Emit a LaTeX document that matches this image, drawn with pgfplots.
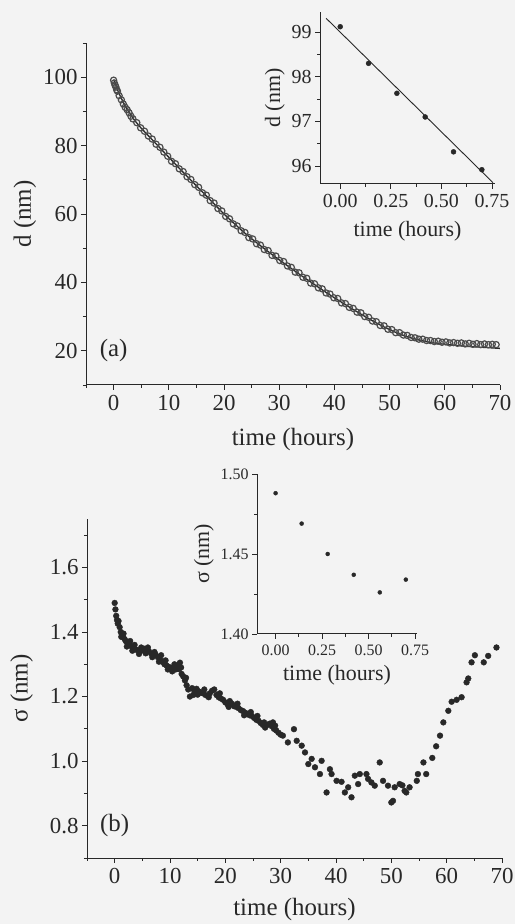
\documentclass[border=0pt]{standalone}
\usepackage{fontspec}
\setmainfont{Liberation Serif}
\usepackage{pgfplots}
\pgfplotsset{compat=1.18}
\definecolor{paper}{RGB}{243,243,243}
\definecolor{ink}{RGB}{40,40,40}

\pgfplotsset{
  panel/.style={
    scale only axis, anchor=south west,
    axis lines=left, axis line style={-, line width=1bp, ink},
    tick align=outside, major tick length=5bp, minor tick length=3bp,
    every tick/.style={ink, line width=0.9bp},
    /pgf/number format/assume math mode=true,
    tick label style={ink, font=\fontsize{23}{25}\selectfont},
    xticklabel style={yshift=-2bp},
    label style={ink, font=\fontsize{25}{27}\selectfont},
  },
  inset/.style={
    panel,
    tick label style={ink, font=\fontsize{20}{22}\selectfont},
    label style={ink, font=\fontsize{22}{24}\selectfont},
    xtick={0,0.25,0.5,0.75},
    minor xtick={0.125,0.375,0.625},
    xticklabel style={/pgf/number format/.cd, fixed, fixed zerofill, precision=2},
    xlabel={time (hours)},
    xmin=-0.1, xmax=0.765,
  },
}

\begin{document}
\begin{tikzpicture}
\useasboundingbox (0bp,0bp) rectangle (515bp,924bp);
\fill[paper] (0bp,0bp) rectangle (515bp,924bp);

% (a) diameter
\begin{axis}[panel, at={(86bp,539bp)}, width=414bp, height=342bp,
  xmin=-5, xmax=70, ymin=10, ymax=110,
  xtick={0,10,...,70}, minor xtick={-5,5,...,65},
  ytick={20,40,...,100}, minor ytick={10,30,...,110},
  xlabel={time (hours)}, ylabel={d (nm)},
  xlabel style={yshift=-10bp}]
\addplot[only marks, mark=o, mark size=3.1bp, mark options={draw=black!70, line width=1.2bp}] coordinates {
(0,99.12)(0.14,98.30)(0.28,97.63)(0.42,97.10)(0.56,96.32)(0.70,95.92)
(1.0,94.6)(1.4,93.4)(1.75,92.2)(2.1,91.2)(2.45,90.5)(2.8,89.6)(3.15,88.6)
(3.5,87.8)(4.2,86.7)(4.9,85.2)(5.6,84.2)
(6.3,82.8)(7.0,81.9)(7.7,80.4)(8.4,79.5)(9.1,78.1)(9.8,76.9)(10.5,75.4)
(11.2,74.7)(11.9,73.2)(12.6,72.4)(13.3,70.9)(14.0,70.1)(14.7,68.6)
(15.4,67.8)(16.1,66.2)(16.8,65.5)(17.5,63.9)(18.2,63.2)(18.9,61.6)
(19.6,60.9)(20.3,59.3)(21.0,58.6)(21.7,57.1)(22.4,56.5)(23.1,55.1)
(23.8,54.6)(24.5,53.1)(25.2,52.7)(25.9,51.3)(26.6,50.9)(27.3,49.6)
(28.0,49.3)(28.7,47.9)(29.4,47.7)(30.1,46.4)(30.8,46.1)(31.5,44.8)
(32.2,44.4)(32.9,43.0)(33.6,42.8)(34.3,41.5)(35.0,41.2)(35.7,39.8)
(36.4,39.6)(37.1,38.4)(37.8,38.1)(38.5,36.9)(39.2,36.6)(39.9,35.5)
(40.6,35.3)(41.3,34.0)(42.0,33.8)(42.7,32.7)(43.4,32.4)(44.1,31.3)
(44.8,31.1)(45.5,30.0)(46.2,29.8)(46.9,28.7)(47.6,28.5)(48.3,27.4)
(49.0,27.3)(49.7,26.3)(50.4,26.2)(51.1,25.3)(51.8,25.3)(52.5,24.6)
(53.2,24.5)(53.9,23.9)(54.6,23.8)(55.3,23.4)(56.0,23.4)(56.7,23.0)
(57.4,23.0)(58.1,22.7)(58.8,22.8)(59.5,22.5)(60.2,22.6)(60.9,22.3)
(61.6,22.4)(62.3,22.2)(63.0,22.3)(63.7,22.0)(64.4,22.2)(65.1,21.9)
(65.8,22.1)(66.5,21.8)(67.2,22.0)(67.9,21.8)(68.6,21.9)(69.3,21.8)
};
\addplot[ink, line width=1.3bp, smooth] coordinates {
(0,99.3)(0.5,97.2)(1,95.2)(2,91.9)(3,89.2)(4,87.0)(5,85.1)(7,81.7)
(10,76.6)(12,73.2)(14,69.9)(16,66.6)(18,63.3)(20,60.0)(22,57.0)(24,54.1)
(26,51.5)(28,49.0)(30,46.6)(32,44.3)(34,42.0)(36,39.8)(38,37.6)(40,35.5)
(42,33.5)(44,31.5)(46,29.6)(48,27.8)(50,26.2)(52,24.8)(54,23.7)(56,22.9)
(58,22.3)(60,21.9)(62,21.6)(64,21.3)(66,21.1)(68,20.9)(70,20.7)
};
\node[ink, font=\fontsize{25}{27}\selectfont] at (axis cs:0,20) {(a)};
\end{axis}

% (a) inset
\begin{axis}[inset, at={(320bp,740bp)}, width=175bp, height=172bp,
  ymin=95.6, ymax=99.45,
  ytick={96,97,98,99}, minor ytick={96.5,97.5,98.5},
  ylabel={d (nm)}, xlabel style={yshift=-6bp}]
\addplot[only marks, mark=*, mark size=2.5bp, ink] coordinates {
(0,99.12)(0.14,98.30)(0.28,97.63)(0.42,97.10)(0.56,96.32)(0.70,95.92)
};
\addplot[ink, line width=0.9bp] coordinates {(-0.07,99.31)(0.755,95.63)};
\end{axis}

% (b) width
\begin{axis}[panel, at={(87bp,66bp)}, width=415bp, height=339bp,
  xmin=-5, xmax=70, ymin=0.7, ymax=1.75,
  xtick={0,10,...,70}, minor xtick={-5,5,...,65},
  ytick={0.8,1.0,...,1.6}, minor ytick={0.7,0.9,...,1.7},
  yticklabel style={/pgf/number format/.cd, fixed, fixed zerofill, precision=1},
  xlabel={time (hours)}, ylabel={σ (nm)},
  xlabel style={yshift=-7bp}, ylabel style={yshift=10bp}]
\addplot[only marks, mark=*, mark size=2.9bp, ink] coordinates {
(0,1.490)(0.14,1.470)(0.28,1.450)(0.42,1.437)(0.56,1.426)(0.70,1.434)
(0.9,1.415)(1.1,1.400)(1.3,1.392)(1.5,1.385)(1.8,1.378)(2.0,1.372)
(2.3,1.366)(2.6,1.360)(3.0,1.356)(3.4,1.350)(3.8,1.346)(4.2,1.343)
(4.6,1.340)(5.0,1.344)(5.4,1.348)(5.8,1.346)(6.2,1.340)(6.6,1.333)
(7.0,1.328)(7.4,1.330)(7.8,1.322)(8.2,1.315)(8.6,1.308)(9.0,1.300)
(9.4,1.296)(9.8,1.292)(10.2,1.288)(10.6,1.290)(11.0,1.284)(11.4,1.296)
(11.8,1.305)(12.1,1.270)(12.4,1.262)(12.7,1.250)(13.0,1.235)(13.3,1.222)
(13.6,1.200)(14.0,1.226)(14.4,1.218)(14.8,1.224)(15.2,1.216)(15.6,1.212)
(16.0,1.210)(16.4,1.205)(16.8,1.202)(17.2,1.210)(17.6,1.218)(18.0,1.222)
(18.4,1.205)(18.8,1.198)(19.2,1.194)(19.6,1.190)(20.0,1.182)(20.4,1.176)
(20.8,1.186)(21.2,1.178)(21.6,1.170)(22.0,1.168)(22.4,1.164)(22.8,1.158)
(23.2,1.155)(23.6,1.150)(24.0,1.146)(24.4,1.142)(24.8,1.140)(25.2,1.134)
(25.6,1.128)(26.0,1.125)(26.4,1.118)(26.8,1.112)(27.2,1.104)(27.6,1.112)
(28.0,1.116)(28.4,1.108)(28.8,1.100)(29.2,1.095)(29.6,1.088)(30.0,1.082)
(1.2,1.385)(1.6,1.395)(2.2,1.355)(2.8,1.372)(3.2,1.342)(3.6,1.360)
(4.4,1.332)(4.8,1.352)(5.6,1.334)(6.0,1.352)(6.8,1.322)(7.2,1.338)
(8.0,1.308)(8.4,1.328)(9.2,1.312)(9.6,1.284)(10.4,1.278)(10.8,1.300)
(11.6,1.285)(12.0,1.290)(12.9,1.258)(14.2,1.205)(15.0,1.206)(16.2,1.222)
(17.0,1.198)(19.0,1.210)(20.6,1.168)(22.2,1.178)(23.4,1.142)(24.6,1.152)
(25.8,1.140)(27.0,1.120)(28.6,1.120)(29.0,1.110)
(30.4,1.079)(31.3,1.058)(32.4,1.099)(32.9,1.063)(33.8,1.048)(34.4,1.027)
(35.0,0.991)(35.6,1.007)(36.2,0.981)(37.1,0.960)(37.4,1.001)(38.3,0.903)
(38.9,0.975)(39.2,0.960)(40.1,0.939)(41.0,0.936)(41.6,0.903)(42.2,0.919)
(42.8,0.888)(43.4,0.955)(44.0,0.929)(44.3,0.960)(45.5,0.960)(45.8,0.945)
(46.4,0.934)(47.0,0.924)(47.9,0.996)(48.5,0.939)(49.4,0.924)(50.0,0.872)
(50.3,0.877)(50.6,0.919)(51.5,0.929)(52.0,0.925)(52.4,0.908)(52.7,0.903)
(53.3,0.919)(54.6,0.939)(54.8,0.960)(55.8,0.996)(56.3,0.960)(57.4,1.010)
(58.1,1.046)(58.8,1.079)(59.4,1.120)(60.3,1.156)(60.9,1.184)(61.8,1.190)
(62.7,1.198)(63.6,1.244)(63.9,1.256)(64.5,1.306)(65.1,1.328)(66.7,1.306)
(67.5,1.326)(69.0,1.352)
};
\node[ink, font=\fontsize{25}{27}\selectfont] at (axis cs:0,0.8) {(b)};
\end{axis}

% (b) inset
\begin{axis}[inset, at={(257bp,290bp)}, width=160bp, height=160bp,
  tick label style={ink, font=\fontsize{16}{18}\selectfont},
  xmin=-0.1, xmax=0.76, ymin=1.40, ymax=1.50,
  ytick={1.40,1.45,1.50}, minor ytick={1.425,1.475},
  yticklabel style={/pgf/number format/.cd, fixed, fixed zerofill, precision=2},
  ylabel={σ (nm)}, xlabel style={yshift=-3bp}]
\addplot[only marks, mark=*, mark size=2bp, ink] coordinates {
(0,1.488)(0.14,1.469)(0.28,1.450)(0.42,1.437)(0.56,1.426)(0.70,1.434)
};
\end{axis}
\end{tikzpicture}
\end{document}
